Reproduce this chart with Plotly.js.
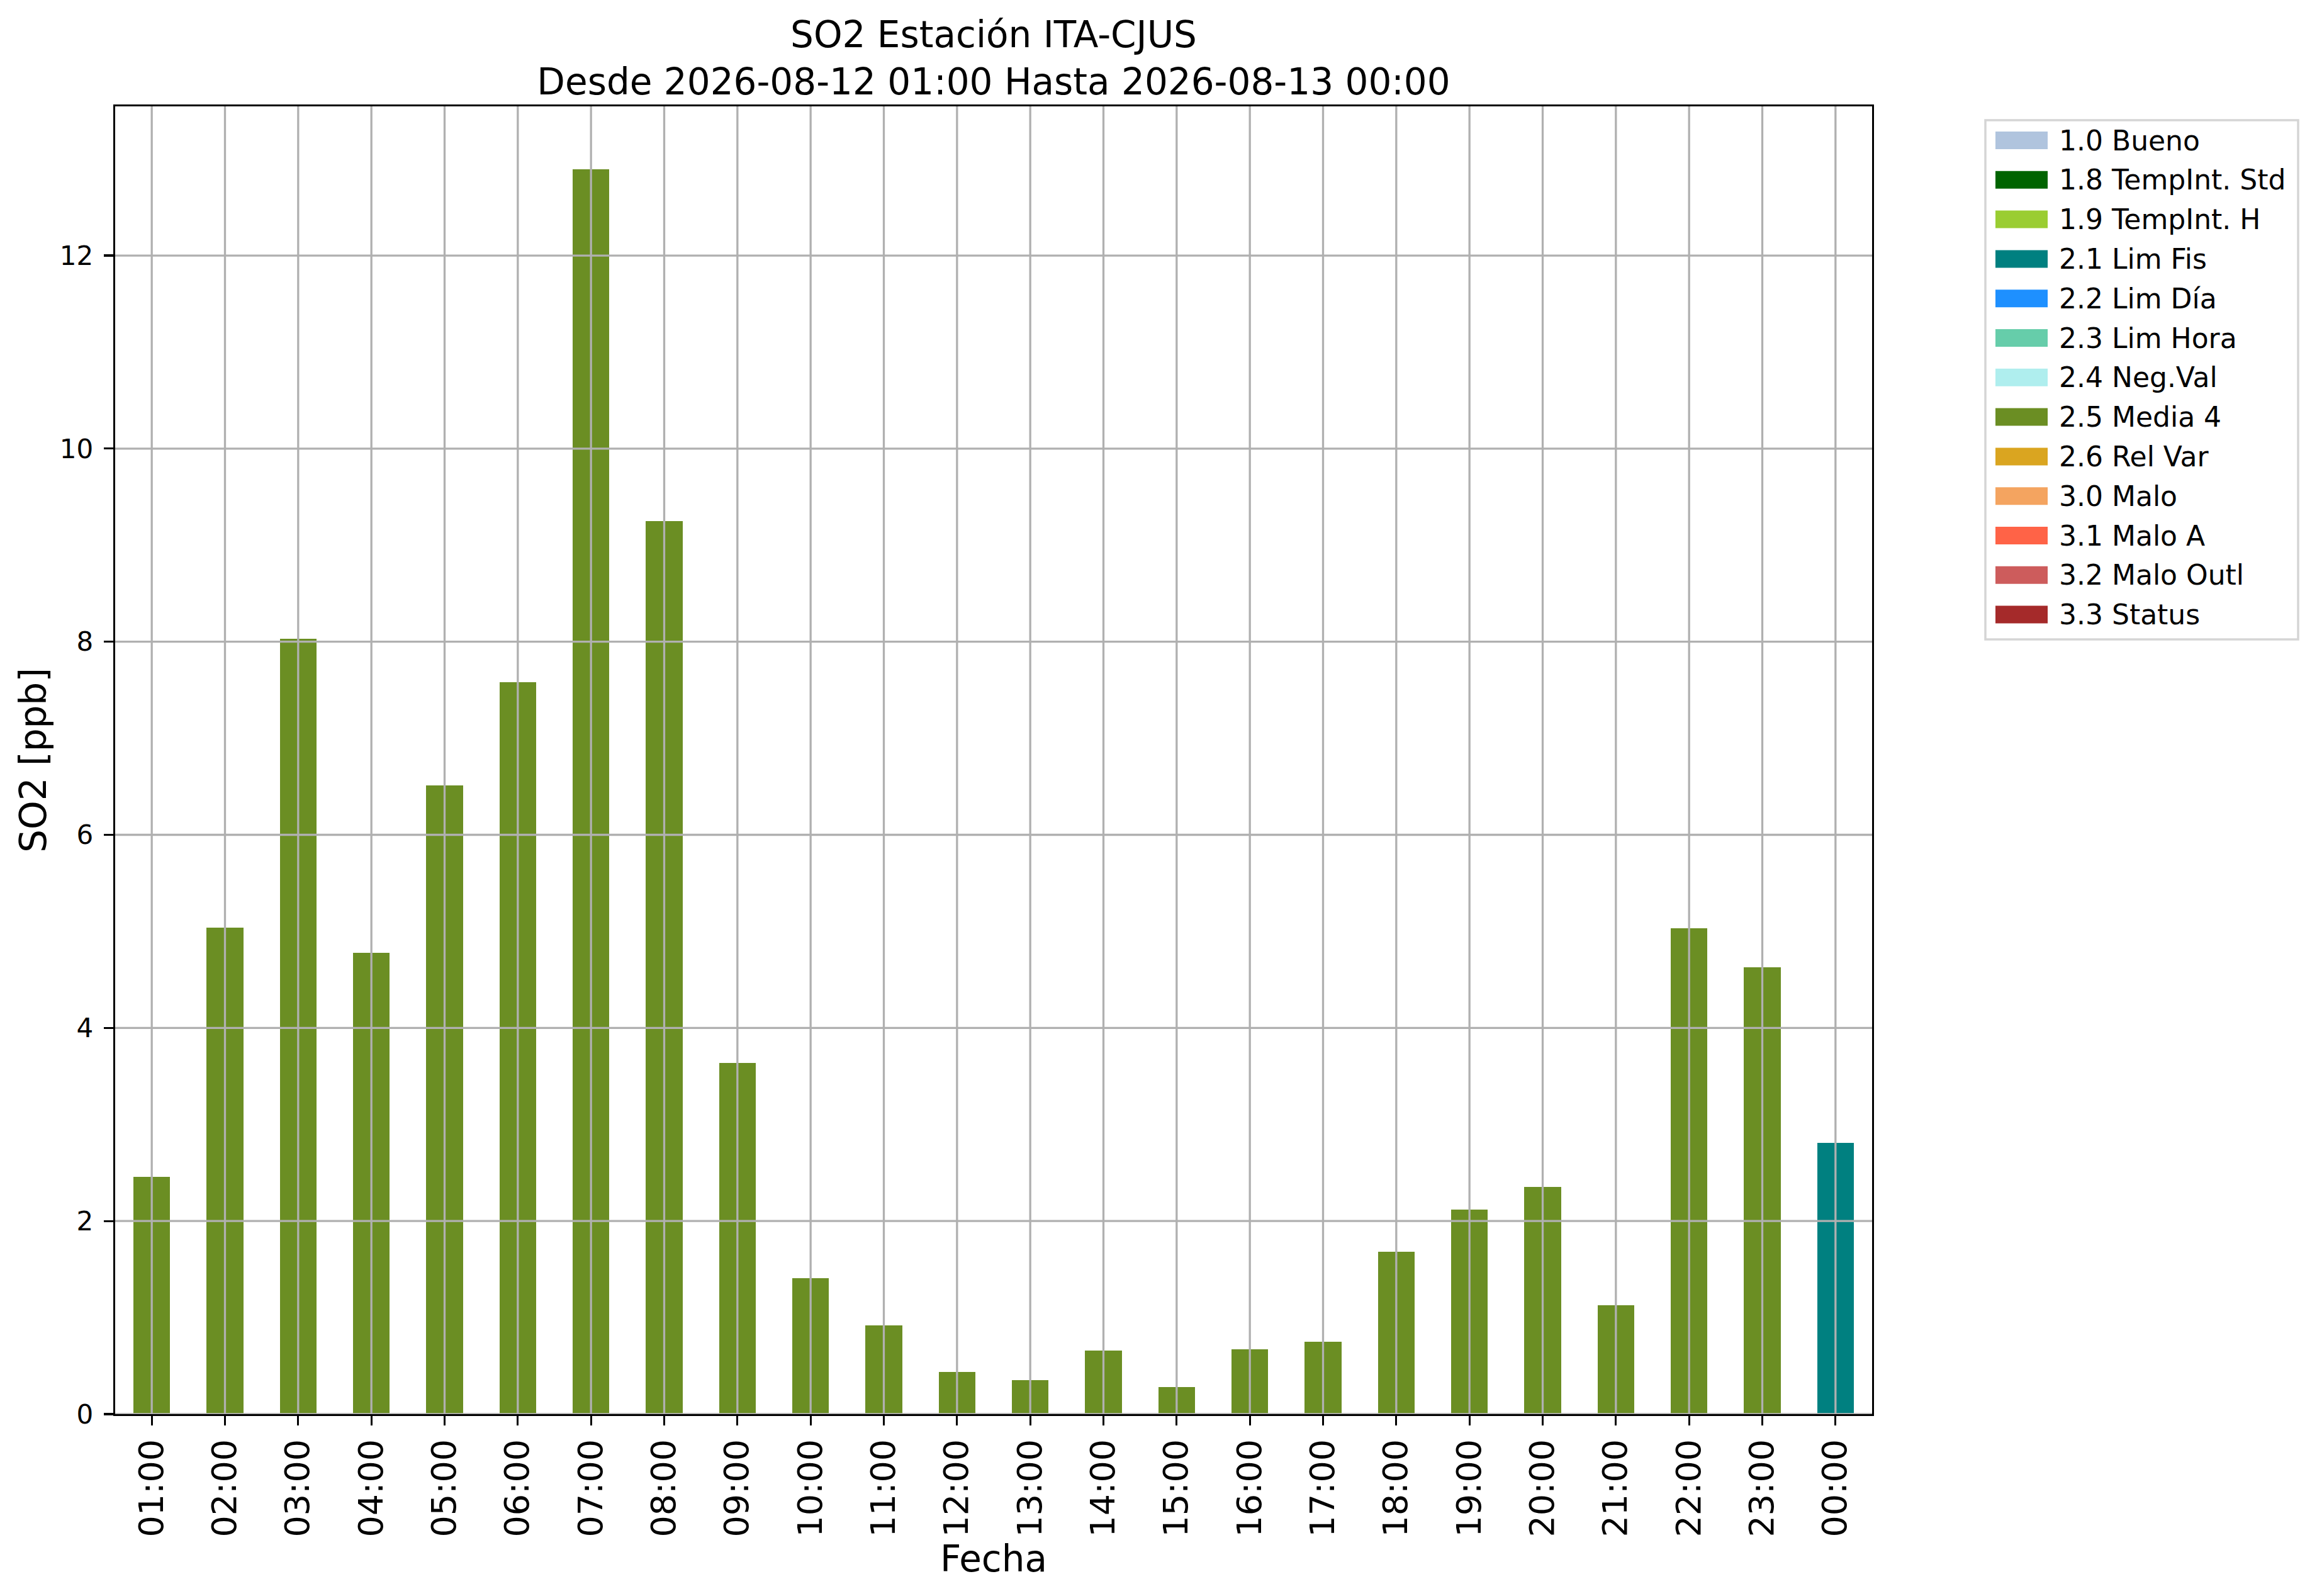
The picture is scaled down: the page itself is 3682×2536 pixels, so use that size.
<!DOCTYPE html>
<html>
<head>
<meta charset="utf-8">
<script src="https://cdn.plot.ly/plotly-3.0.1.min.js"></script>
<style>
  html, body { margin: 0; padding: 0; background: #fff; }
  #so2-chart { width: 3682px; height: 2536px; }
</style>
</head>
<body>
<div id="so2-chart"></div>
<script>
// Horas del periodo (2026-08-12 01:00 .. 2026-08-13 00:00)
const hours = ['01:00', '02:00', '03:00', '04:00', '05:00', '06:00', '07:00', '08:00',
               '09:00', '10:00', '11:00', '12:00', '13:00', '14:00', '15:00', '16:00',
               '17:00', '18:00', '19:00', '20:00', '21:00', '22:00', '23:00', '00:00'];

// SO2 [ppb] por flag de validacion
const media4Values = [2.46, 5.04, 8.03, 4.78, 6.51, 7.58, 12.89, 9.25,
                      3.64, 1.41, 0.92, 0.44, 0.35, 0.66, 0.28, 0.67,
                      0.75, 1.68, 2.12, 2.35, 1.13, 5.03, 4.63, 0];
const limFisValues = [0, 0, 0, 0, 0, 0, 0, 0, 0, 0, 0, 0,
                      0, 0, 0, 0, 0, 0, 0, 0, 0, 0, 0, 2.81];
const emptyValues  = [0, 0, 0, 0, 0, 0, 0, 0, 0, 0, 0, 0,
                      0, 0, 0, 0, 0, 0, 0, 0, 0, 0, 0, 0];

const flagNames = ['1.0 Bueno', '1.8 TempInt. Std', '1.9 TempInt. H', '2.1 Lim Fis',
                   '2.2 Lim Día', '2.3 Lim Hora', '2.4 Neg.Val', '2.5 Media 4',
                   '2.6 Rel Var', '3.0 Malo', '3.1 Malo A', '3.2 Malo Outl', '3.3 Status'];
const flagColors = ['lightsteelblue', 'darkgreen', 'yellowgreen', 'teal',
                    'dodgerblue', 'mediumaquamarine', 'paleturquoise', 'olivedrab',
                    'goldenrod', 'sandybrown', 'tomato', 'indianred', 'brown'];
const flagValues = [emptyValues, emptyValues, emptyValues, limFisValues,
                    emptyValues, emptyValues, emptyValues, media4Values,
                    emptyValues, emptyValues, emptyValues, emptyValues, emptyValues];

const yTicks = [0, 2, 4, 6, 8, 10, 12];

// geometria de la figura (px)
const W = 3682, H = 2536;
const M = { l: 183, r: 707, t: 169, b: 289 };
const plotW = W - M.l - M.r, plotH = H - M.t - M.b;
function px2paperX(px) { return (px - M.l) / plotW; }
function px2paperY(py) { return (H - M.b - py) / plotH; }

let traces = flagNames.map(function (name, i) {
    return {
        type: 'bar',
        name: name,
        x: hours,
        y: flagValues[i],
        width: 0.5,
        marker: { color: flagColors[i], line: { width: 0 } },
        showlegend: false,
        hoverinfo: 'x+y+name'
    };
});

// matplotlib pinta la rejilla encima de las barras -> shapes en capa 'above'
let shapes = [];
hours.forEach(function (h) {
    shapes.push({
        type: 'line', layer: 'above', xref: 'x', yref: 'paper',
        x0: h, x1: h, y0: 0, y1: 1,
        line: { color: '#b0b0b0', width: 3.3 }
    });
});
yTicks.forEach(function (v) {
    shapes.push({
        type: 'line', layer: 'above', xref: 'paper', yref: 'y',
        x0: 0, x1: 1, y0: v, y1: v,
        line: { color: '#b0b0b0', width: 3.3 }
    });
});

// leyenda estilo matplotlib (parches rectangulares anchos)
let annotations = [];
const legBox = { x0: 3155, x1: 3652, y0: 191, y1: 1016 };
shapes.push({
    type: 'rect', layer: 'above', xref: 'paper', yref: 'paper',
    x0: px2paperX(legBox.x0), x1: px2paperX(legBox.x1),
    y0: px2paperY(legBox.y1), y1: px2paperY(legBox.y0),
    fillcolor: 'rgba(255,255,255,0.8)',
    line: { color: '#d5d5d5', width: 3.5 }
});
flagNames.forEach(function (name, i) {
    const cy = 223 + i * 62.8;
    shapes.push({
        type: 'rect', layer: 'above', xref: 'paper', yref: 'paper',
        x0: px2paperX(3171), x1: px2paperX(3254),
        y0: px2paperY(cy + 14), y1: px2paperY(cy - 14),
        fillcolor: flagColors[i],
        line: { width: 0 }
    });
    annotations.push({
        xref: 'paper', yref: 'paper',
        x: px2paperX(3270), y: px2paperY(cy),
        xanchor: 'left', yanchor: 'middle',
        text: name, showarrow: false,
        font: { size: 44, color: '#000' }
    });
});

let layout = {
    width: W,
    height: H,
    margin: M,
    paper_bgcolor: '#ffffff',
    plot_bgcolor: '#ffffff',
    font: { family: 'DejaVu Sans', color: '#000', size: 42 },
    barmode: 'stack',
    bargap: 0,
    showlegend: false,
    title: {
        text: 'SO2 Estación ITA-CJUS<br>Desde 2026-08-12 01:00 Hasta 2026-08-13 00:00',
        font: { size: 58, family: 'DejaVu Sans', color: '#000' },
        xref: 'paper', x: 0.5, xanchor: 'center',
        yref: 'container', y: 1 - 75 / H, yanchor: 'middle'
    },
    xaxis: {
        type: 'category',
        range: [-0.5, 23.5],
        tickangle: -90,
        tickfont: { size: 54 },
        ticks: 'outside', ticklen: 15, tickwidth: 3.3, tickcolor: '#000',
        showgrid: false,
        showline: true, linecolor: '#000', linewidth: 3.3, mirror: true,
        zeroline: false,
        title: { text: 'Fecha', font: { size: 58 }, standoff: 14 }
    },
    yaxis: {
        range: [0, 13.545],
        tickvals: yTicks,
        tickfont: { size: 42 },
        ticks: 'outside', ticklen: 15, tickwidth: 3.3, tickcolor: '#000',
        ticklabelstandoff: 8,
        showgrid: false,
        showline: true, linecolor: '#000', linewidth: 3.3, mirror: true,
        zeroline: false,
        title: { text: 'SO2 [ppb]', font: { size: 58 }, standoff: 3 }
    },
    shapes: shapes,
    annotations: annotations
};

Plotly.newPlot('so2-chart', traces, layout, { displayModeBar: false, staticPlot: true });
</script>
</body>
</html>
